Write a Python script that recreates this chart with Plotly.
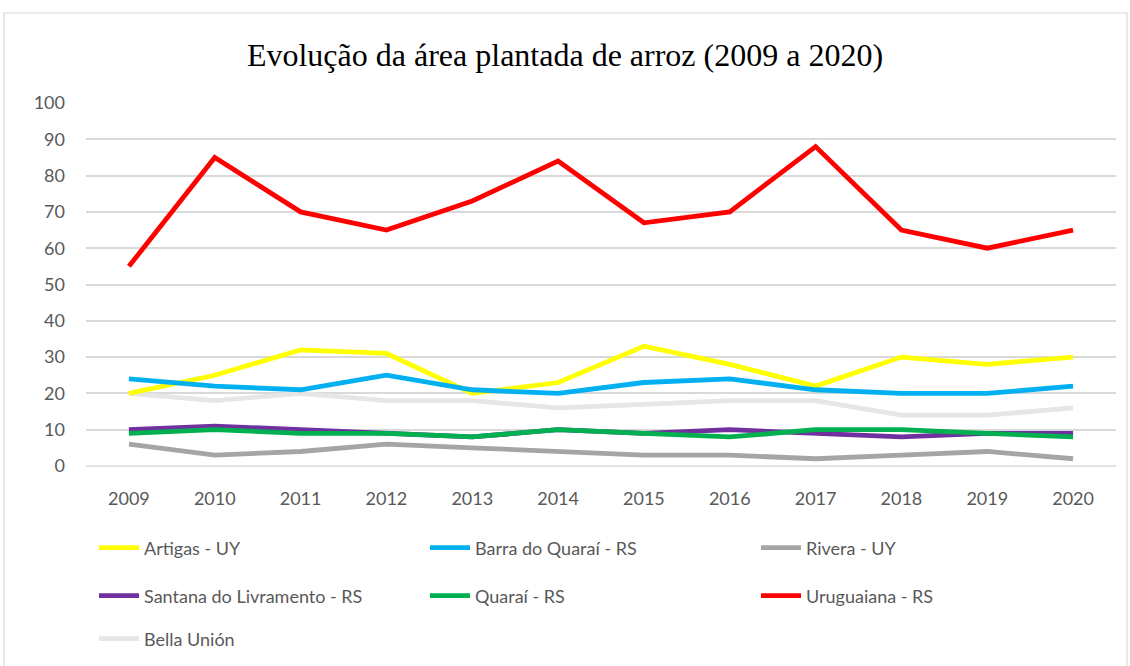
import plotly.graph_objects as go

years = ["2009", "2010", "2011", "2012", "2013", "2014", "2015", "2016", "2017", "2018", "2019", "2020"]

artigas = [20, 25, 32, 31, 20, 23, 33, 28, 22, 30, 28, 30]
barra = [24, 22, 21, 25, 21, 20, 23, 24, 21, 20, 20, 22]
rivera = [6, 3, 4, 6, 5, 4, 3, 3, 2, 3, 4, 2]
santana = [10, 11, 10, 9, 8, 10, 9, 10, 9, 8, 9, 9]
quarai = [9, 10, 9, 9, 8, 10, 9, 8, 10, 10, 9, 8]
uruguaiana = [55, 85, 70, 65, 73, 84, 67, 70, 88, 65, 60, 65]
bella = [20, 18, 20, 18, 18, 16, 17, 18, 18, 14, 14, 16]

y_ticks = [0, 10, 20, 30, 40, 50, 60, 70, 80, 90, 100]

series = [
    ("Artigas - UY", artigas, "#FFFF00", "legend"),
    ("Barra do Quaraí - RS", barra, "#00B0F0", "legend"),
    ("Rivera - UY", rivera, "#A5A5A5", "legend"),
    ("Santana do Livramento - RS", santana, "#7030A0", "legend2"),
    ("Quaraí - RS", quarai, "#00B050", "legend2"),
    ("Uruguaiana - RS", uruguaiana, "#FF0000", "legend2"),
    ("Bella Unión", bella, "#E7E6E6", "legend3"),
]

fig = go.Figure()
draw_order = [6, 2, 3, 4, 0, 1, 5]
for i in draw_order:
    name, vals, color, leg = series[i]
    fig.add_trace(go.Scatter(
        x=years, y=vals, name=name, mode="lines",
        line=dict(color=color, width=4.8),
        legend=leg, legendrank=i,
    ))

L, R, T, B = 86, 14, 103, 200
W, H = 1130, 666
pw = W - L - R
ph = H - T - B

def px_x(p):
    return (p - L) / pw

def px_y(p):
    return (H - B - p) / ph

def cy(p):
    return 1 - p / H

legend_common = dict(
    orientation="h", entrywidth=276, entrywidthmode="pixels",
    font=dict(family="Lato, Open Sans, sans-serif", size=18, color="#595959"),
    x=px_x(94), xanchor="left", yanchor="middle", yref="container",
    bgcolor="rgba(0,0,0,0)", itemwidth=40, traceorder="normal",
)

fig.update_layout(
    width=W, height=H, autosize=False,
    margin=dict(l=L, r=R, t=T, b=B, autoexpand=False),
    paper_bgcolor="white", plot_bgcolor="white",
    title=dict(
        text="Evolução da área plantada de arroz (2009 a 2020)",
        font=dict(family="Liberation Serif, Times New Roman, serif", size=32, color="#000000"),
        x=0.5, xanchor="center", y=cy(55), yanchor="middle",
    ),
    legend=dict(**legend_common, y=cy(548)),
    legend2=dict(**legend_common, y=cy(596)),
    legend3=dict(**legend_common, y=cy(639)),
    showlegend=True,
    xaxis=dict(
        type="category", range=[-0.5, 11.5], showgrid=False, zeroline=False,
        showline=False, ticks="",
        tickfont=dict(family="Lato, Open Sans, sans-serif", size=18, color="#595959"),
        ticklabelstandoff=20,
    ),
    yaxis=dict(
        range=[0, 100], tickvals=y_ticks, showgrid=True, gridcolor="#D9D9D9", gridwidth=1.5,
        zeroline=False, showline=False, ticks="",
        tickfont=dict(family="Lato, Open Sans, sans-serif", size=18, color="#595959"),
        ticklabelstandoff=20,
    ),
    shapes=[
        dict(type="line", xref="paper", yref="paper", x0=0, x1=1, y0=0, y1=0,
             line=dict(color="#D9D9D9", width=1.5), layer="below"),
        dict(type="rect", xref="paper", yref="paper",
             x0=px_x(4), x1=px_x(1127), y0=px_y(13), y1=px_y(720),
             line=dict(color="#D9D9D9", width=1.2), fillcolor="rgba(0,0,0,0)", layer="below"),
    ],
)

fig.write_html(
    "out.html",
    config={"displayModeBar": False},
    post_script="document.body.style.margin='0';document.body.style.padding='0';",
)
